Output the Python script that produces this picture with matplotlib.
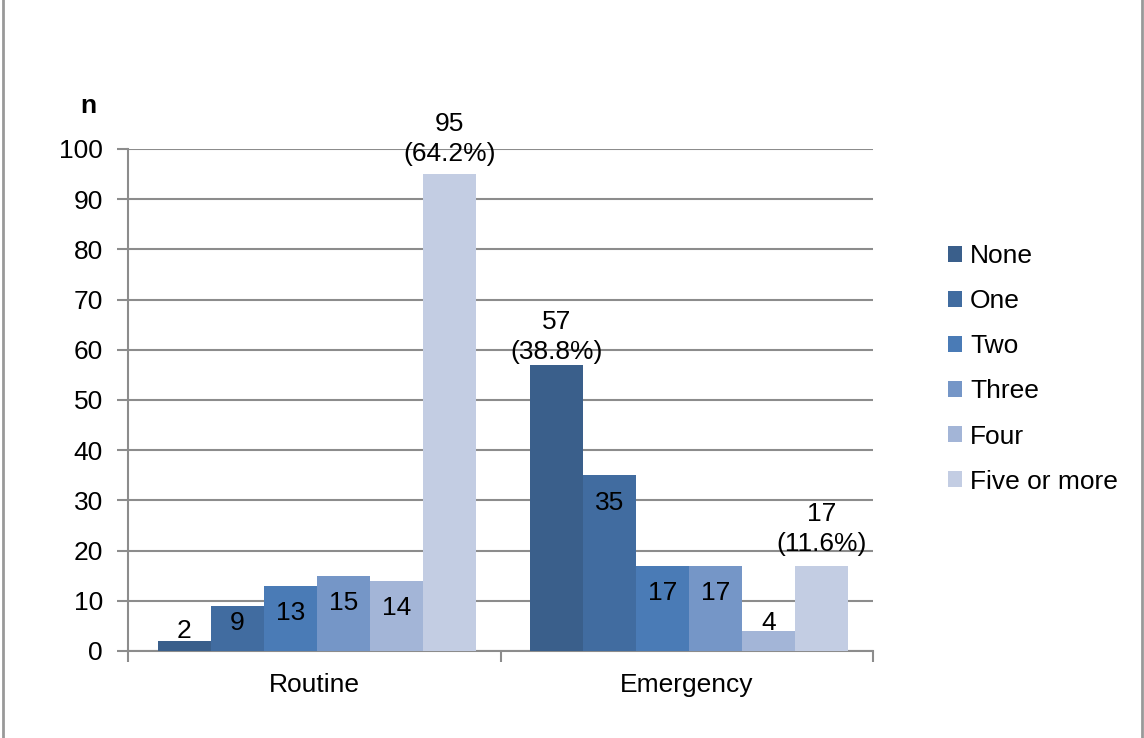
import matplotlib.pyplot as plt
import numpy as np
from matplotlib.lines import Line2D

plt.rcParams['font.family'] = ['Liberation Sans', 'DejaVu Sans']

groups = ["Routine", "Emergency"]
series = ["None", "One", "Two", "Three", "Four", "Five or more"]
counts = {
    "None": [2, 57],
    "One": [9, 35],
    "Two": [13, 17],
    "Three": [15, 17],
    "Four": [14, 4],
    "Five or more": [95, 17],
}
# percentages shown only on the marked bars
percents = {
    ("None", 1): "38.8%",
    ("Five or more", 0): "64.2%",
    ("Five or more", 1): "11.6%",
}
colors = ["#3a5f8b", "#416ca0", "#4a7bb6", "#7596c7", "#a3b5d7", "#c3cde3"]

# gap between bar top and the two-line labels (data units)
pct_gap = {("None", 1): 0.2, ("Five or more", 0): 1.6, ("Five or more", 1): 2.0}

fig = plt.figure(figsize=(11.44, 7.38), dpi=100)
ax = fig.add_axes([128 / 1144, 1 - 651 / 738, 745 / 1144, 502 / 738])

n = len(series)
span = 0.854
bw = span / n
shift = 0.007
x = np.arange(len(groups))
grid_c = "#8c8c8c"

for i, (name, col) in enumerate(zip(series, colors)):
    vals = counts[name]
    pos = x - span / 2 + shift + bw * (i + 0.5)
    ax.bar(pos, vals, width=bw, color=col, label=name, zorder=3)
    for g, (p, v) in enumerate(zip(pos, vals)):
        pct = percents.get((name, g))
        if pct:
            ax.text(p, v + pct_gap[(name, g)], f"{v}\n({pct})", ha="center",
                    va="bottom", fontsize=19, linespacing=1.3, zorder=4)
        elif v < 3:
            ax.text(p, v - 0.5, str(v), ha="center", va="bottom",
                    fontsize=19, zorder=4)
        else:
            ax.text(p, max(v - 5.5, 5.6), str(v), ha="center", va="center",
                    fontsize=19, zorder=4)

ax.set_xlim(-0.5, len(groups) - 0.5)
ax.set_ylim(0, 100)
ax.set_yticks(range(0, 101, 10))
ax.yaxis.grid(True, color=grid_c, linewidth=1.5, zorder=0)
ax.set_axisbelow(True)

ax.set_xticks(x)
ax.set_xticklabels(groups)
ax.set_xticks([-0.5, 0.5, 1.5], minor=True)
ax.tick_params(axis="x", which="major", length=0, pad=16, labelsize=19)
ax.tick_params(axis="x", which="minor", length=8, width=1.5, color=grid_c)
ax.tick_params(axis="y", length=8, width=1.5, color=grid_c, pad=10, labelsize=19)

for s in ["top", "right"]:
    ax.spines[s].set_visible(False)
for s in ["left", "bottom"]:
    ax.spines[s].set_color(grid_c)
    ax.spines[s].set_linewidth(1.5)

fig.text(88 / 1144, 1 - 106 / 738, "n", fontsize=19, fontweight="bold",
         ha="center", va="center")

leg = ax.legend(loc="center left", bbox_to_anchor=(1.1, 0.562),
                frameon=False, fontsize=19, handlelength=0.55, handleheight=0.55,
                handletextpad=0.3, labelspacing=0.8, borderaxespad=0,
                borderpad=0)

# outer frame lines on the left and right edges
fig.add_artist(Line2D([2.5 / 1144, 2.5 / 1144], [0, 1], color="#999999",
                      linewidth=2, transform=fig.transFigure))
fig.add_artist(Line2D([1141.5 / 1144, 1141.5 / 1144], [0, 1], color="#999999",
                      linewidth=2, transform=fig.transFigure))

fig.savefig("out.png", dpi=100)
